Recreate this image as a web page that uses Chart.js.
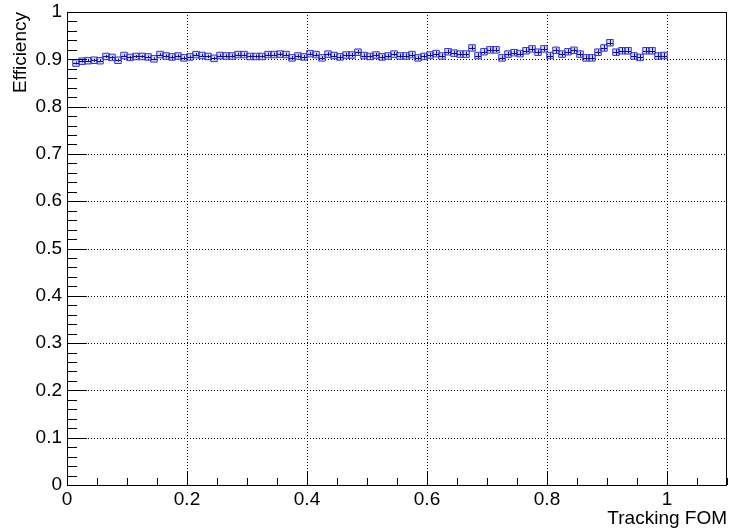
<!DOCTYPE html>
<html>
<head>
<meta charset="utf-8">
<title>Efficiency vs Tracking FOM</title>
<script src="https://cdn.jsdelivr.net/npm/chart.js@4.4.1/dist/chart.umd.min.js"></script>
<style>
  html, body { margin: 0; padding: 0; background: #fff; }
  canvas { display: block; }
</style>
</head>
<body>
<canvas id="effChart" width="729" height="531"></canvas>
<script>
// histogram binning (first filled bin starts at 0.01)
const binStart = 0.01;
const binWidth = 0.01;

// efficiency per bin
const effValues = [
  0.892, 0.896, 0.897, 0.898, 0.897, 0.906, 0.904, 0.898, 0.908, 0.904,
  0.906, 0.906, 0.905, 0.901, 0.910, 0.907, 0.905, 0.907, 0.903, 0.905,
  0.910, 0.908, 0.906, 0.902, 0.908, 0.907, 0.907, 0.910, 0.910, 0.906,
  0.906, 0.906, 0.910, 0.910, 0.911, 0.910, 0.903, 0.907, 0.905, 0.912,
  0.910, 0.903, 0.911, 0.908, 0.905, 0.909, 0.909, 0.915, 0.908, 0.906,
  0.909, 0.905, 0.907, 0.911, 0.907, 0.907, 0.910, 0.903, 0.906, 0.909,
  0.912, 0.907, 0.916, 0.913, 0.911, 0.911, 0.924, 0.908, 0.916, 0.920,
  0.920, 0.903, 0.911, 0.914, 0.912, 0.918, 0.922, 0.915, 0.922, 0.908,
  0.919, 0.911, 0.916, 0.919, 0.911, 0.903, 0.903, 0.915, 0.924, 0.935,
  0.915, 0.918, 0.918, 0.907, 0.904, 0.918, 0.918, 0.907, 0.908
];

// vertical error per bin
const effErrors = [
  0.003, 0.003, 0.003, 0.003, 0.003, 0.003, 0.003, 0.003, 0.003, 0.003,
  0.003, 0.003, 0.003, 0.003, 0.003, 0.0035, 0.0035, 0.0035, 0.0035, 0.0035,
  0.0035, 0.0035, 0.0035, 0.0035, 0.0035, 0.004, 0.004, 0.004, 0.004, 0.004,
  0.004, 0.004, 0.004, 0.004, 0.004, 0.004, 0.004, 0.004, 0.004, 0.004,
  0.004, 0.004, 0.0045, 0.0045, 0.0045, 0.0045, 0.0045, 0.0045, 0.0045, 0.0045,
  0.0045, 0.0045, 0.0045, 0.0045, 0.0045, 0.005, 0.005, 0.005, 0.005, 0.005,
  0.005, 0.005, 0.005, 0.005, 0.005, 0.005, 0.005, 0.005, 0.005, 0.005,
  0.005, 0.005, 0.005, 0.005, 0.005, 0.0055, 0.0055, 0.0055, 0.0055, 0.0055,
  0.0055, 0.0055, 0.0055, 0.0055, 0.0055, 0.0055, 0.0055, 0.0055, 0.006, 0.006,
  0.006, 0.006, 0.006, 0.006, 0.006, 0.006, 0.006, 0.006, 0.006
];

const xTickValues = [0, 0.2, 0.4, 0.6, 0.8, 1];
const yTickValues = [0, 0.1, 0.2, 0.3, 0.4, 0.5, 0.6, 0.7, 0.8, 0.9, 1];
const xTitle = 'Tracking FOM';
const yTitle = 'Efficiency';

const fontFamily = '"Liberation Sans", Arial, Helvetica, sans-serif';
Chart.defaults.font.family = fontFamily;
Chart.defaults.font.size = 19;
Chart.defaults.color = '#000';

const points = effValues.map((v, i) => ({ x: binStart + binWidth * (i + 0.5), y: v }));

const fmt = v => String(+v.toFixed(2));
const crisp = p => Math.round(p) + 0.5;

// ROOT-ish frame: dotted grid, box, inside ticks, error bars, titles
const rootFrame = {
  id: 'rootFrame',
  beforeDatasetsDraw(chart) {
    const { ctx, chartArea: a, scales: { x, y } } = chart;
    ctx.save();
    ctx.strokeStyle = '#000';
    ctx.lineWidth = 1;
    ctx.setLineDash([1, 2]);
    ctx.beginPath();
    xTickValues.forEach(v => {
      const px = crisp(x.getPixelForValue(v));
      if (px <= a.left + 1 || px >= a.right - 1) return;
      ctx.moveTo(px, a.top);
      ctx.lineTo(px, a.bottom);
    });
    yTickValues.forEach(v => {
      const py = crisp(y.getPixelForValue(v));
      if (py <= a.top + 1 || py >= a.bottom - 1) return;
      ctx.moveTo(a.left, py);
      ctx.lineTo(a.right, py);
    });
    ctx.stroke();
    ctx.restore();
  },
  afterDatasetsDraw(chart) {
    const { ctx, scales: { x, y } } = chart;
    ctx.save();
    ctx.strokeStyle = '#10108a';
    ctx.lineWidth = 1;
    ctx.beginPath();
    points.forEach((p, i) => {
      const x0 = x.getPixelForValue(p.x - binWidth / 2);
      const x1 = x.getPixelForValue(p.x + binWidth / 2);
      const xc = crisp(x.getPixelForValue(p.x));
      const yc = crisp(y.getPixelForValue(p.y));
      ctx.moveTo(x0, yc);
      ctx.lineTo(x1, yc);
      ctx.moveTo(xc, y.getPixelForValue(p.y + effErrors[i]));
      ctx.lineTo(xc, y.getPixelForValue(p.y - effErrors[i]));
    });
    ctx.stroke();
    ctx.restore();
  },
  afterDraw(chart) {
    const { ctx, chartArea: a, scales: { x, y } } = chart;
    ctx.save();
    ctx.strokeStyle = '#000';
    ctx.lineWidth = 1;
    ctx.strokeRect(crisp(a.left), crisp(a.top), Math.round(a.right - a.left) - 1, Math.round(a.bottom - a.top));

    // y ticks: major every 0.1, minor every 0.02
    ctx.beginPath();
    for (let k = 0; k <= 50; k++) {
      const py = crisp(y.getPixelForValue(k * 0.02));
      const len = k % 5 === 0 ? 20 : 10;
      ctx.moveTo(a.left, py);
      ctx.lineTo(a.left + len, py);
    }
    // x ticks: major every 0.2, minor every 0.05
    for (let k = 0; k <= 22; k++) {
      const px = crisp(x.getPixelForValue(k * 0.05));
      const len = k % 4 === 0 ? 14 : 7;
      ctx.moveTo(px, a.bottom);
      ctx.lineTo(px, a.bottom - len);
    }
    ctx.stroke();

    ctx.fillStyle = '#000';
    ctx.font = '19px ' + fontFamily;
    ctx.textBaseline = 'alphabetic';

    // x tick labels
    ctx.textAlign = 'center';
    xTickValues.forEach(v => ctx.fillText(fmt(v), x.getPixelForValue(v), 505));

    ctx.textAlign = 'right';
    ctx.fillText(xTitle, a.right, 524);

    ctx.translate(26, a.top);
    ctx.rotate(-Math.PI / 2);
    ctx.fillText(yTitle, 0, 0);
    ctx.restore();
  }
};

new Chart(document.getElementById('effChart'), {
  type: 'scatter',
  data: {
    datasets: [{
      label: yTitle,
      data: points,
      pointStyle: 'rect',
      pointRadius: 4.6,
      borderWidth: 1,
      borderColor: '#3838c0',
      backgroundColor: 'rgba(60, 60, 200, 0.22)'
    }]
  },
  options: {
    responsive: false,
    animation: false,
    layout: { autoPadding: false, padding: { top: 12, right: 2, left: 0, bottom: 0 } },
    plugins: { legend: { display: false }, tooltip: { enabled: false } },
    scales: {
      x: {
        type: 'linear',
        min: 0,
        max: 1.1,
        grid: { display: false, drawTicks: false },
        border: { display: false },
        afterBuildTicks: s => { s.ticks = xTickValues.map(v => ({ value: v })); },
        afterFit: s => { s.height = 46; s.paddingLeft = 0; s.paddingRight = 0; },
        ticks: { display: false }
      },
      y: {
        min: 0,
        max: 1,
        grid: { display: false, drawTicks: false },
        border: { display: false },
        afterBuildTicks: s => { s.ticks = yTickValues.map(v => ({ value: v })); },
        afterFit: s => { s.width = 67; s.paddingTop = 0; s.paddingBottom = 0; },
        ticks: { padding: 5, autoSkip: false, callback: v => fmt(v) }
      }
    }
  },
  plugins: [rootFrame]
});
</script>
</body>
</html>
